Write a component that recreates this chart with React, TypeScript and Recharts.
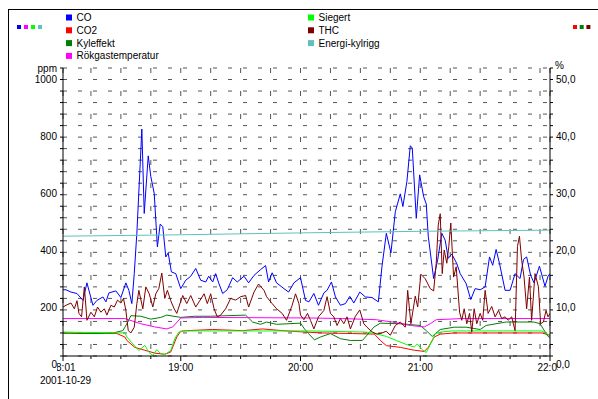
import React from 'react';
import { LineChart, Line, XAxis, YAxis, CartesianGrid } from 'recharts';

const FONT = '"Liberation Sans", Arial, Helvetica, sans-serif';

// time = minutes after 18:01
const xTicks = [0, 14, 29, 44, 59, 74, 89, 104, 119, 134, 149, 164, 179, 194, 209, 224, 239, 244];
const xTickLabels: Record<number, string> = { 0: '18:01', 59: '19:00', 119: '20:00', 179: '21:00', 244: '22:05' };
const leftTicks = Array.from({ length: 26 }, (_, i) => i * 40);
const rightTicks = Array.from({ length: 26 }, (_, i) => i * 2);

// CO (ppm, left)
const coT = [0,1.5,4,7,10,12,15,17,20,21.5,23,26.5,29,31.5,33,34.5,35.7,37,38.7,39.5,40.7,42.7,44,45.7,47.3,48.7,50,51.5,52.7,54.3,56.5,59,61.5,64,66.5,69,71.5,73,75,76.5,78,80,82.3,85,87.3,90.7,93,95.7,99,101.5,103,104.8,107,110.7,113,115.7,119,121.5,123.2,125.7,128,130.7,132.3,134.5,136.5,139,141.5,143.7,145.7,148.7,151.5,154.8,158,159.8,162,164.3,166.5,169,170.3,172.3,174,175,177,178.7,180.7,182,183,185.7,187.7,189.8,191.5,193,194.8,197.3,199,202,204.3,206.5,209,211.5,213.7,215.3,217,218.7,221.5,224,226.5,229,230.7,232.3,234.3,236,238.7,241.5,243,244];
const coV = [230,230,222,217,193,254,176,193,205,188,219,226,203,254,228,182,286,426,670,788,495,695,623,565,379,458,449,344,358,292,286,234,263,277,304,263,257,277,257,286,254,217,230,272,257,277,254,280,300,314,257,289,254,234,222,254,272,193,188,217,176,219,228,257,205,176,182,207,184,222,205,203,188,310,426,358,501,563,519,606,730,722,478,629,553,528,416,269,333,426,402,339,354,321,286,251,196,234,230,240,344,315,370,321,228,228,286,269,335,344,280,254,312,242,277,286];

// CO2 (%, right)
const co2T = [0,10,20,27,31,32,36,41,46,51,54,57,59,62,75,90,100,110,119,130,145,156,159,162,169,176,181,183,186,189,196,220,240,244];
const co2V = [4.0,3.9,4.0,3.9,3.3,2.7,1.5,1.0,0.5,0.3,0.7,3.3,4.3,4.4,4.6,4.4,4.7,4.4,4.2,4.0,3.9,3.8,2.7,1.8,1.5,1.0,0.8,1.5,3.3,3.8,4.0,4.0,4.0,3.6];

// Kyleffekt (%, right)
const kyT = [0,19,25,30,31,32.5,34,39,44,49,52,59,66,74,91.5,95,99,102,107,119,121,123,126,129,134,139,144,150,152.3,155.7,159,169,179,182,185,189,196,202,209,212,222,236,239,243,244];
const kyV = [4.0,3.9,4.0,4.4,5.0,5.9,7.0,6.9,6.4,6.7,7.1,6.7,6.9,6.9,7.1,5.9,5.5,5.9,5.5,5.7,4.7,3.9,2.8,3.3,3.9,3.0,2.7,2.7,3.6,5.0,5.7,5.6,5.3,4.4,3.4,4.6,5.0,5.0,4.6,5.3,5.9,5.9,5.6,3.4,3.2];

// Rökgastemperatur (left)
const rgT = [0,31,35,39,46,52,55,59,70,124,140,157,165,174,181,184,187,200,244];
const rgV = [130,130,121,112,101,94,101,132,134,132,130,126,118,106,101,112,126,130,130];

// Siegert (left)
const sgT = [0,31,32,35,38,41,43,45,47,49,51,54,56,58,61,124,152,157,162,167,172,176,177.5,180,182,185,186.5,189,195,240,243,244];
const sgV = [83,80,66,42,19,37,13,2,22,8,5,19,60,83,87,87,83,77,68,54,40,31,42,22,12,54,77,83,87,87,75,70];

// THC (%, right)
const thcT = [0,1.5,4,5.7,7,8,9.3,10.7,12,14,15.7,17.3,19,20.7,22,24,25.7,27.3,29,30.3,31.5,32.7,34,35.7,37,38,40,41.5,43.2,45,46.5,48,49.5,51,52.3,54,55.7,57,58.7,60,62,64,66.5,68.7,70.7,72.3,74,75.7,77.3,79,81.5,84,86.5,89,91.5,93,95.7,98,100.7,102,104.8,107,109.8,112,114.8,116.5,118.2,119,120.7,122.5,124,125.7,128,130.7,132.3,134,135.7,137.3,139,140.7,142.3,144,146.5,148.7,150.7,152.3,154.8,157.3,159.8,162,164,166.5,169,171.5,172.7,174.3,176.5,177.7,179.3,181.5,184,185.7,187,188,189,190,191,192.3,193.3,194.3,195.7,197,198.7,199.8,201,202.3,203.7,204.8,206,207.3,209,210.3,211.5,213,214.8,216.5,218.2,219.8,221.5,223,224.8,226.5,227.7,228.7,229.8,231,232.3,233.7,234.8,236.5,238.2,239.3,240.7,242,243,244];
const thcV = [8.5,8.8,9.2,8.2,9.6,7.4,6.8,12.0,6.2,7.6,6.8,8.5,7.6,8.2,7.1,8.8,8.5,9.7,9.2,10.0,7.9,4.4,4.0,5.0,9.1,11.4,8.2,12.0,10.8,8.5,10.8,11.7,14.4,10.0,11.4,9.6,8.2,7.4,9.2,10.5,9.1,10.5,8.5,9.7,10.8,9.1,10.8,8.2,6.8,7.1,8.2,10.0,9.7,10.3,10.5,8.5,11.1,12.5,11.4,10.3,9.1,8.2,7.4,6.2,8.8,10.8,9.1,7.1,6.3,7.4,6.2,4.7,6.8,7.9,10.3,7.4,6.8,5.3,6.5,5.6,6.8,4.7,6.9,8.0,5.6,5.0,4.2,3.8,4.0,4.3,3.6,5.3,5.9,5.0,11.4,5.6,10.4,8.5,14.2,13.4,11.7,11.3,16.1,22.7,24.7,14.3,18.4,16.1,19.0,23.1,13.7,15.5,7.6,6.2,8.2,5.6,7.4,4.2,8.2,5.6,7.4,6.2,11.4,7.4,8.6,6.8,7.9,6.5,6.8,6.2,6.8,4.4,19.0,20.8,16.6,13.7,8.2,13.7,6.2,14.3,12.0,5.6,5.9,7.9,6.8,7.4];

// Energi-kylrigg (left)
const ekT = [0,60,124,180,244];
const ekV = [416,421,428,433,437];

const pts = (ts: number[], vs: number[]) => ts.map((t, i) => ({ t, v: vs[i] }));

const series = [
  { name: 'CO', color: '#0000FF', axis: 'left', data: pts(coT, coV) },
  { name: 'CO2', color: '#FF0000', axis: 'right', data: pts(co2T, co2V) },
  { name: 'Kyleffekt', color: '#008000', axis: 'right', data: pts(kyT, kyV) },
  { name: 'Rökgastemperatur', color: '#FF00FF', axis: 'left', data: pts(rgT, rgV) },
  { name: 'Siegert', color: '#00FF00', axis: 'left', data: pts(sgT, sgV) },
  { name: 'THC', color: '#800000', axis: 'right', data: pts(thcT, thcV) },
  { name: 'Energi-kylrigg', color: '#60C0C0', axis: 'left', data: pts(ekT, ekV) },
];

const legendCol1 = ['CO', 'CO2', 'Kyleffekt', 'Rökgastemperatur'];
const legendCol2 = ['Siegert', 'THC', 'Energi-kylrigg'];
const leftMarkers = ['#0000FF', '#FF00FF', '#00FF00', '#60C0C0'];
const rightMarkers = ['#FF0000', '#008000', '#800000'];
const colorOf = (n: string) => series.find((s) => s.name === n)!.color;

const XTick = (props: any) => {
  const { x, y, payload } = props;
  const v = payload.value;
  const label = xTickLabels[v];
  const major = label !== undefined;
  const first = v === xTicks[0];
  const last = v === xTicks[xTicks.length - 1];
  const clipId = `xclip-${v}`;
  return (
    <g>
      <line x1={x} x2={x} y1={y} y2={y + (major ? 5 : 3)} stroke="#000" />
      {(first || last) && (
        <clipPath id={clipId}>
          {first ? (
            <rect x={x - 6} y={y} width={40} height={25} />
          ) : (
            <rect x={x - 40} y={y} width={48} height={25} />
          )}
        </clipPath>
      )}
      {major && (
        <text
          x={x}
          y={y + 11.5}
          textAnchor="middle"
          dominantBaseline="central"
          fontSize={10}
          fontFamily={FONT}
          fill="#000"
          clipPath={first || last ? `url(#${clipId})` : undefined}
        >
          {label}
        </text>
      )}
    </g>
  );
};

const LeftTick = (props: any) => {
  const { x, y, payload } = props;
  const v = payload.value;
  const major = v % 200 === 0;
  const ly = y + 8 + (3 * v) / 1000;
  return (
    <g>
      <line x1={x - 3} x2={x} y1={y} y2={y} stroke="#000" />
      {major && (
        <text x={x - 6} y={ly} textAnchor="end" dominantBaseline="central" fontSize={10} fontFamily={FONT} fill="#000">
          {v}
        </text>
      )}
    </g>
  );
};

const RightTick = (props: any) => {
  const { x, y, payload } = props;
  const v = payload.value;
  const major = v % 10 === 0;
  const ly = y + 8 + (3 * v) / 50;
  return (
    <g>
      <line x1={x} x2={x + 3} y1={y} y2={y} stroke="#000" />
      {major && (
        <text x={x + 6} y={ly} textAnchor="start" dominantBaseline="central" fontSize={10} fontFamily={FONT} fill="#000">
          {v.toFixed(1).replace('.', ',')}
        </text>
      )}
    </g>
  );
};

export default function App() {
  return (
    <div style={{ position: 'absolute', left: 0, top: 0, width: 598, height: 399, background: '#fff', fontFamily: FONT }}>
      <LineChart width={598} height={399} margin={{ top: 68, right: 0, bottom: 0, left: 0 }}>
        <CartesianGrid yAxisId="left" vertical={false} stroke="#555" strokeDasharray="4 11" />
        <CartesianGrid yAxisId="left" horizontal={false} stroke="#555" strokeDasharray="5 18" />
        <XAxis
          type="number"
          dataKey="t"
          domain={[0, 244]}
          ticks={xTicks}
          interval={0}
          height={43}
          tickLine={false}
          tickSize={0}
          tickMargin={0}
          axisLine={{ stroke: '#000' }}
          tick={<XTick />}
          allowDataOverflow
        />
        <YAxis
          yAxisId="left"
          type="number"
          domain={[0, 1000]}
          ticks={leftTicks}
          interval={0}
          width={63}
          tickLine={false}
          tickSize={0}
          tickMargin={0}
          axisLine={{ stroke: '#000' }}
          tick={<LeftTick />}
          allowDataOverflow
        />
        <YAxis
          yAxisId="right"
          orientation="right"
          type="number"
          domain={[0, 50]}
          ticks={rightTicks}
          interval={0}
          width={48}
          tickLine={false}
          tickSize={0}
          tickMargin={0}
          axisLine={{ stroke: '#000' }}
          tick={<RightTick />}
          allowDataOverflow
        />
        {series.map((s) => (
          <Line
            key={s.name}
            yAxisId={s.axis}
            data={s.data}
            dataKey="v"
            name={s.name}
            type="linear"
            stroke={s.color}
            strokeWidth={1}
            dot={false}
            activeDot={false}
            isAnimationActive={false}
          />
        ))}
      </LineChart>
      <svg width={598} height={399} style={{ position: 'absolute', left: 0, top: 0, pointerEvents: 'none' }}>
        <line x1={8.5} x2={8.5} y1={9} y2={399} stroke="#000" />
        <line x1={8} x2={598} y1={9.5} y2={9.5} stroke="#000" />
        {leftMarkers.map((c, i) => (
          <rect key={c} x={17 + i * 7} y={25} width={4} height={4} fill={c} />
        ))}
        {rightMarkers.map((c, i) => (
          <rect key={c} x={573 + i * 6.7} y={25} width={4} height={4} fill={c} />
        ))}
        {legendCol1.map((n, i) => (
          <g key={n}>
            <rect x={66} y={14.5 + i * 12.8} width={6} height={6} fill={colorOf(n)} />
            <text x={76.5} y={17.5 + i * 12.8} dominantBaseline="central" fontSize={10} fontFamily={FONT} fill="#000">
              {n}
            </text>
          </g>
        ))}
        {legendCol2.map((n, i) => (
          <g key={n}>
            <rect x={308} y={14.5 + i * 12.8} width={6} height={6} fill={colorOf(n)} />
            <text x={318.5} y={17.5 + i * 12.8} dominantBaseline="central" fontSize={10} fontFamily={FONT} fill="#000">
              {n}
            </text>
          </g>
        ))}
        <text x={57} y={68.5} textAnchor="end" dominantBaseline="central" fontSize={10} fontFamily={FONT} fill="#000">ppm</text>
        <text x={555} y={65} textAnchor="start" dominantBaseline="central" fontSize={10} fontFamily={FONT} fill="#000">%</text>
        <text x={40} y={380} textAnchor="start" dominantBaseline="central" fontSize={10} fontFamily={FONT} fill="#000">2001-10-29</text>
      </svg>
    </div>
  );
}
